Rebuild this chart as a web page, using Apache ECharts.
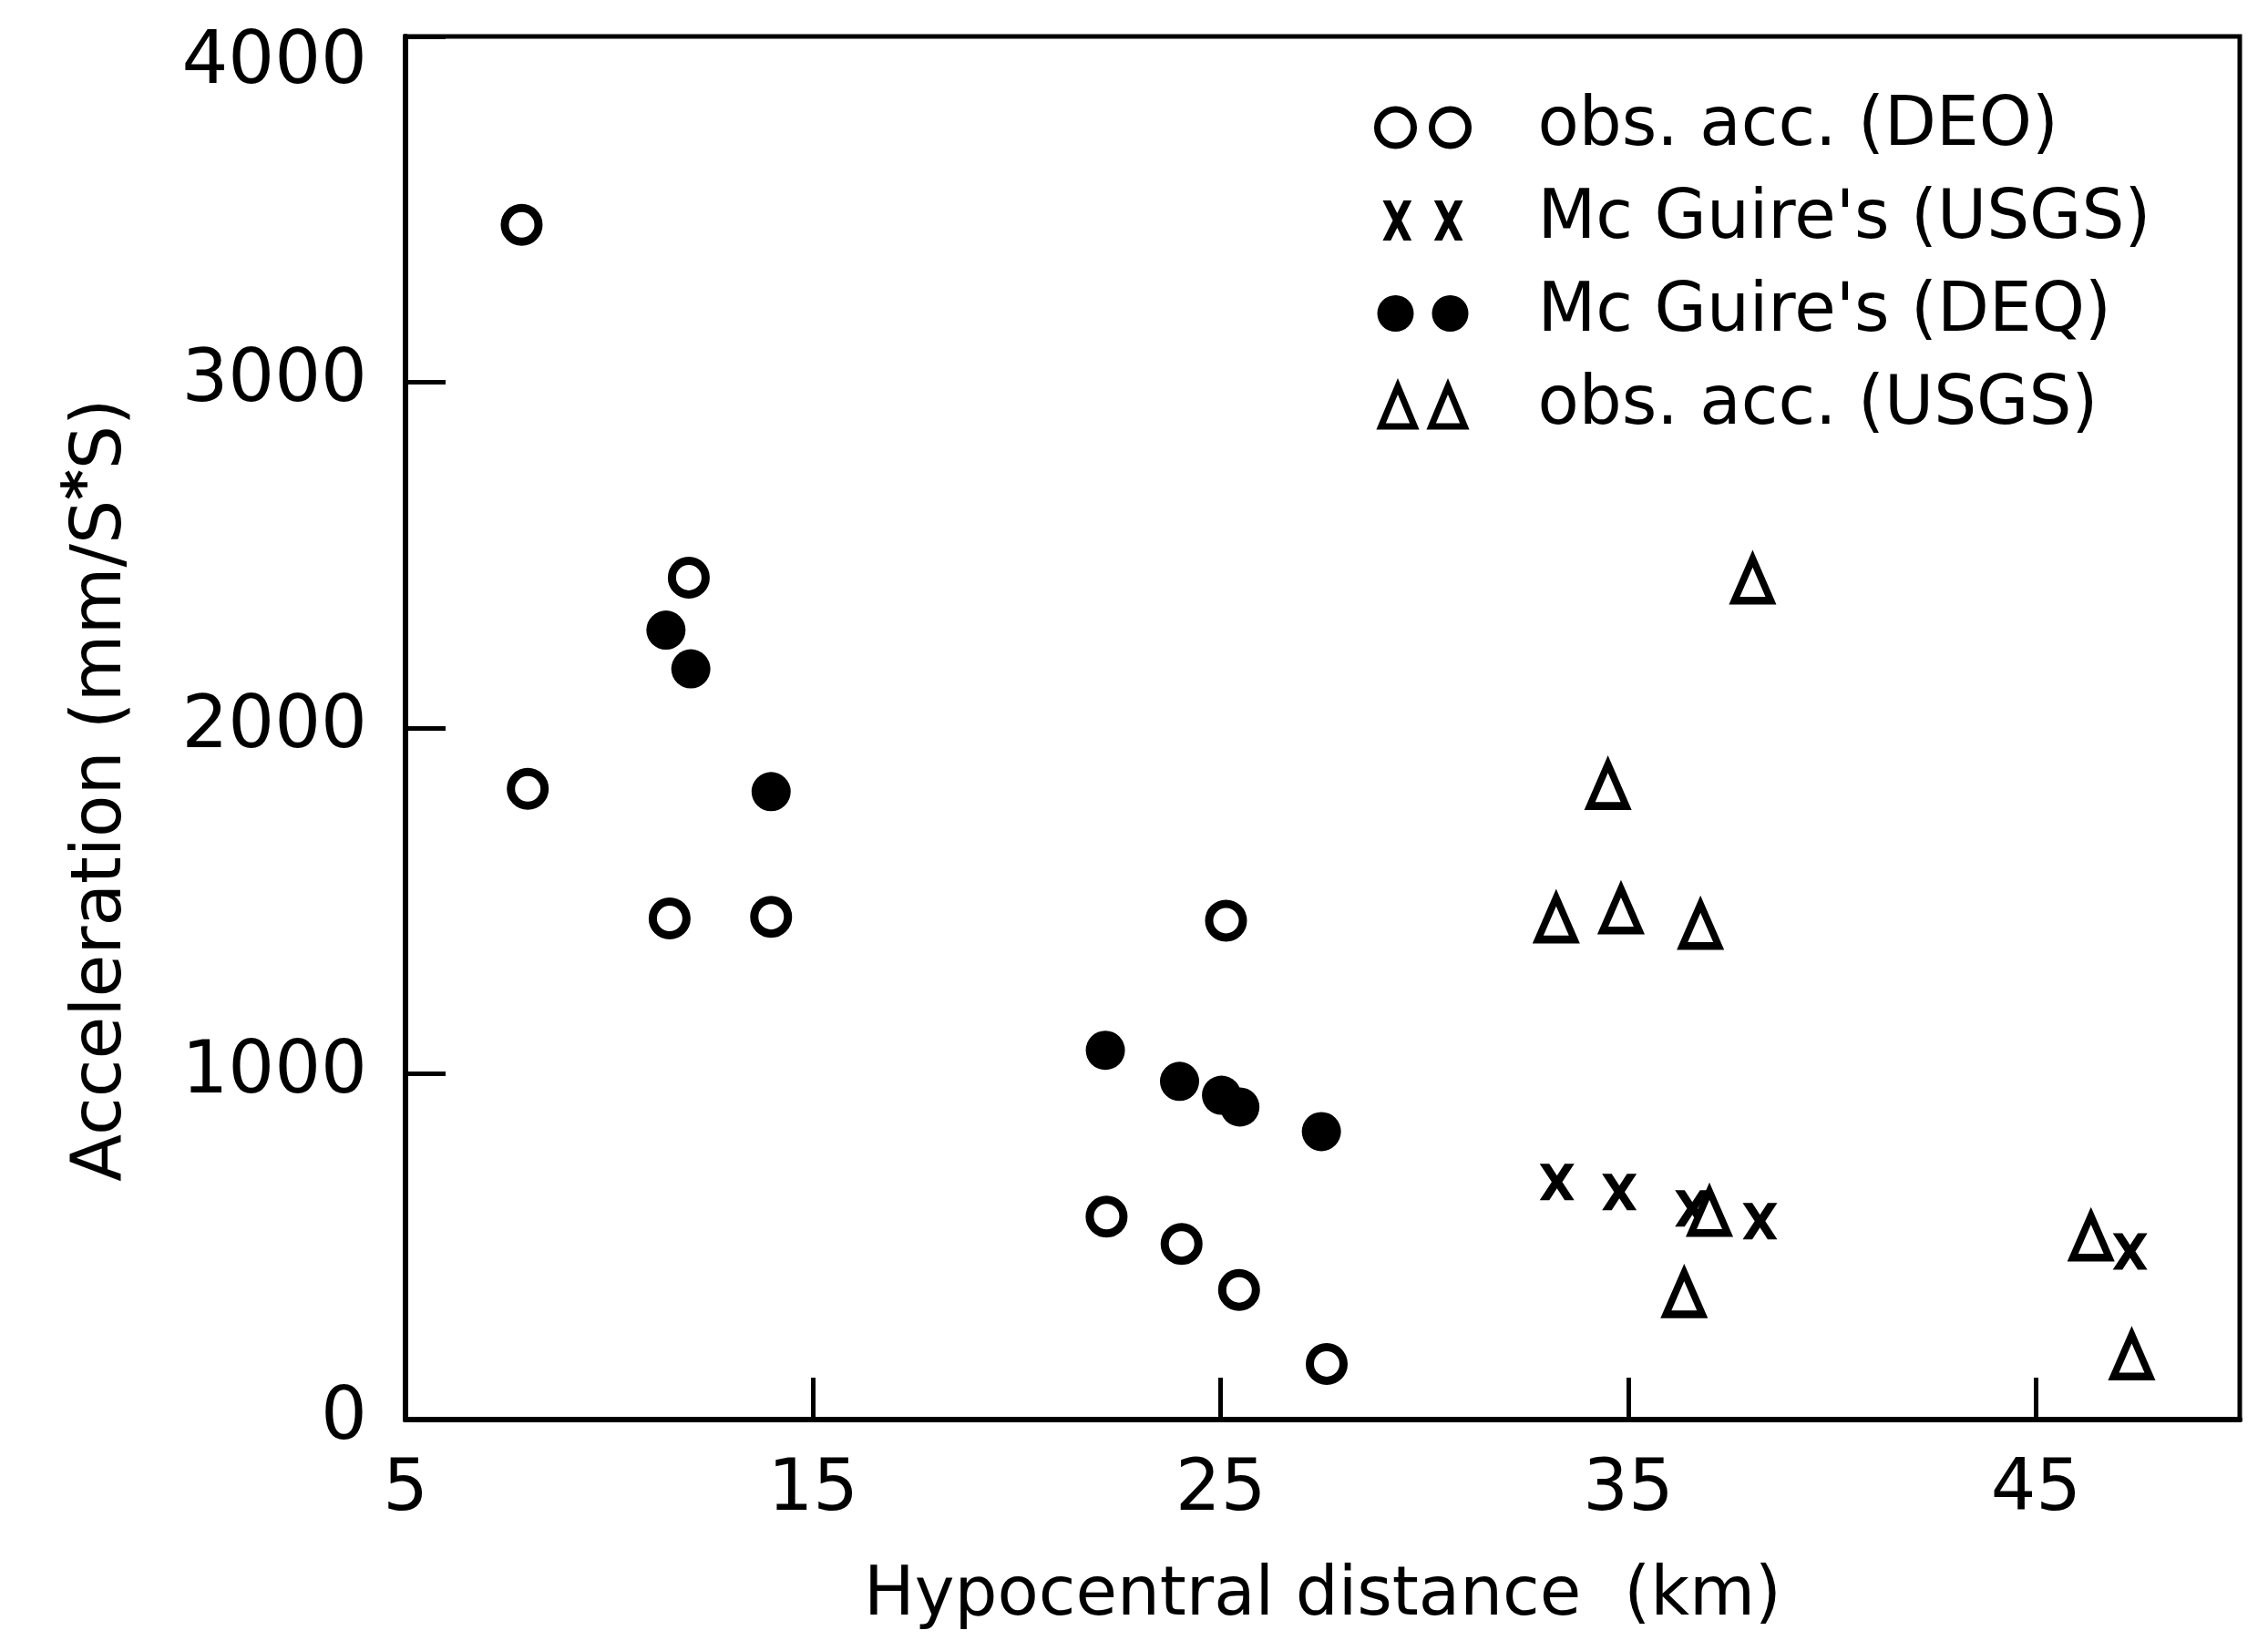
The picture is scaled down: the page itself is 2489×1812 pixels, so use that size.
<!DOCTYPE html>
<html>
<head>
<meta charset="utf-8">
<title>Acceleration vs hypocentral distance</title>
<script src="https://cdn.jsdelivr.net/npm/echarts@6.0.0/dist/echarts.min.js"></script>
<style>
    html, body { margin: 0; padding: 0; background: #fff; }
    #chart { width: 2489px; height: 1812px; }
</style>
</head>
<body>
<div id="chart"></div>
<script>
// values (km, mm/s*s)
var obsDeqX = [7.85, 8.0, 11.95, 11.48, 13.97, 25.13, 22.2, 24.04, 25.45, 27.6];
var obsDeqY = [3455, 1824, 2435, 1449, 1454, 1443, 587, 508, 375, 161];

var mcgUsgsX = [33.25, 34.78, 36.57, 38.23, 47.31];
var mcgUsgsY = [687, 658, 611, 574, 486];

var mcgDeqX = [11.39, 12.0, 13.97, 22.17, 23.99, 25.02, 25.47, 27.47];
var mcgDeqY = [2283, 2171, 1816, 1068, 978, 938, 904, 833];

var obsUsgsX = [38.05, 34.5, 33.23, 34.82, 36.77, 36.99, 36.37, 46.35, 47.35];
var obsUsgsY = [2429, 1835, 1449, 1475, 1430, 600, 365, 529, 185];

var seriesNames = ["obs. acc. (DEO)", "Mc Guire's (USGS)", "Mc Guire's (DEQ)", "obs. acc. (USGS)"];

// marker shapes
var crossPath = 'path://M0,0L10,0L18,13L26,0L36,0L23.5,20L36,40L26,40L18,27L10,40L0,40L12.5,20Z';
var twoCircles = 'path://M20,0A20,20,0,1,1,20,40A20,20,0,1,1,20,0ZM80,0A20,20,0,1,1,80,40A20,20,0,1,1,80,0Z';
var twoCrosses = 'path://M0,0L10,0L18,16L26,0L36,0L23.5,25L36,50L26,50L18,34L10,50L0,50L12.5,25Z' +
    'M64,0L74,0L82,16L90,0L100,0L87.5,25L100,50L90,50L82,34L74,50L64,50L76.5,25Z';
var twoTriangles = 'path://M20,0L40,48L0,48ZM80,0L100,48L60,48Z';

var font = 'DejaVu Sans';

function pairs(xs, ys) {
    var out = [];
    for (var i = 0; i < xs.length; i++) {
        out.push([xs[i], ys[i]]);
    }
    return out;
}

var myChart = echarts.init(document.getElementById('chart'), null, { renderer: 'canvas' });

var option = {
    backgroundColor: '#fff',
    animation: false,
    grid: {
        left: 445,
        right: 31,
        top: 40,
        bottom: 254,
        show: true,
        borderColor: '#000',
        borderWidth: 5
    },
    legend: {
        orient: 'vertical',
        left: 1508,
        top: 100,
        padding: 0,
        itemWidth: 100,
        itemHeight: 44,
        itemGap: 22,
        textStyle: {
            fontFamily: font,
            fontSize: 74,
            color: '#000',
            lineHeight: 80,
            padding: [0, 0, 0, 71]
        },
        data: [
            { name: seriesNames[0], icon: twoCircles, itemStyle: { color: '#fff', borderColor: '#000', borderWidth: 7 } },
            { name: seriesNames[1], icon: twoCrosses, itemStyle: { color: '#000', borderWidth: 0 } },
            { name: seriesNames[2], icon: twoCircles, itemStyle: { color: '#000', borderWidth: 0 } },
            { name: seriesNames[3], icon: twoTriangles, itemStyle: { color: '#fff', borderColor: '#000', borderWidth: 7 } }
        ]
    },
    xAxis: {
        type: 'value',
        min: 5,
        max: 50,
        interval: 10,
        name: 'Hypocentral distance  (km)',
        nameLocation: 'middle',
        nameGap: 158,
        nameTextStyle: { fontFamily: font, fontSize: 74, color: '#000' },
        axisLine: { show: true, lineStyle: { color: '#000', width: 6 } },
        axisTick: { show: true, inside: true, length: 46, lineStyle: { color: '#000', width: 5 } },
        axisLabel: {
            fontFamily: font, fontSize: 78, color: '#000', margin: 40,
            showMaxLabel: false
        },
        splitLine: { show: false }
    },
    yAxis: {
        type: 'value',
        min: 0,
        max: 4000,
        interval: 1000,
        name: 'Acceleration (mm/S{sup|*}S)',
        nameLocation: 'middle',
        nameGap: 286,
        nameTextStyle: {
            fontFamily: font, fontSize: 76, color: '#000',
            padding: [0, 136, 0, 0],
            rich: {
                sup: { fontFamily: font, fontSize: 64, color: '#000', fontWeight: 'bold', verticalAlign: 'top', padding: [0, 0, 30, 0] }
            }
        },
        axisLine: { show: true, lineStyle: { color: '#000', width: 6 } },
        axisTick: { show: true, inside: true, length: 44, lineStyle: { color: '#000', width: 5 } },
        axisLabel: {
            fontFamily: font, fontSize: 80, color: '#000', margin: 42,
            // the top label sits a little below the frame in the original
            formatter: function (v) {
                return v === 4000 ? '{top|' + v + '}' : '' + v;
            },
            rich: {
                top: { fontFamily: font, fontSize: 80, color: '#000', padding: [60, 0, 0, 0] }
            }
        },
        splitLine: { show: false }
    },
    series: [
        {
            name: seriesNames[0],
            type: 'scatter',
            symbol: 'circle',
            symbolSize: 37,
            itemStyle: { color: '#fff', borderColor: '#000', borderWidth: 9, opacity: 1 },
            data: pairs(obsDeqX, obsDeqY)
        },
        {
            name: seriesNames[1],
            type: 'scatter',
            symbol: crossPath,
            symbolSize: [38, 40],
            itemStyle: { color: '#000', opacity: 1 },
            data: pairs(mcgUsgsX, mcgUsgsY)
        },
        {
            name: seriesNames[2],
            type: 'scatter',
            symbol: 'circle',
            symbolSize: 43,
            itemStyle: { color: '#000', opacity: 1 },
            data: pairs(mcgDeqX, mcgDeqY)
        },
        {
            name: seriesNames[3],
            type: 'scatter',
            symbol: 'triangle',
            symbolSize: [40, 46],
            itemStyle: { color: '#fff', borderColor: '#000', borderWidth: 8, opacity: 1 },
            data: pairs(obsUsgsX, obsUsgsY)
        }
    ]
};

myChart.setOption(option);
</script>
</body>
</html>
